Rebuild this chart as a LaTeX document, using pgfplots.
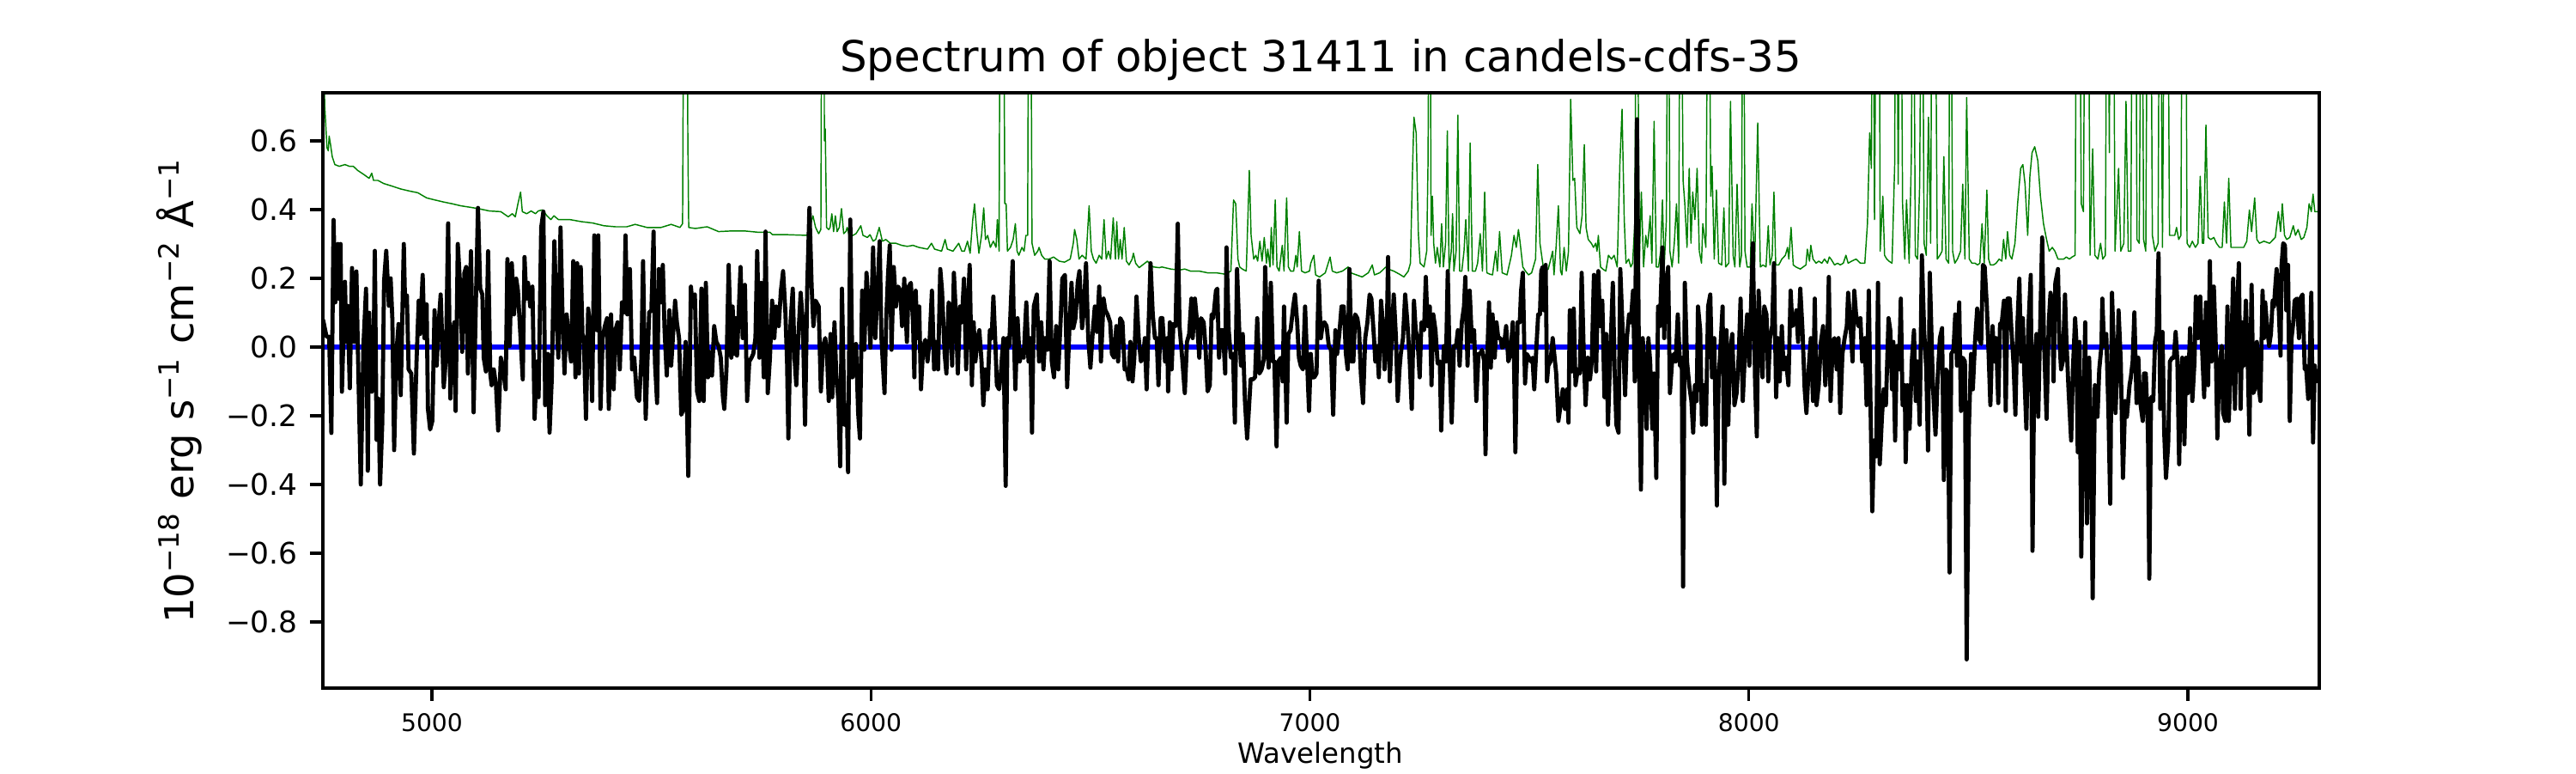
\documentclass[border=0pt]{standalone}
\usepackage{fontspec}
\setmainfont{DejaVu Sans}
\usepackage{pgfplots}
\pgfplotsset{compat=1.18}
\usepackage{pgfplotstable}
\definecolor{mplgreen}{rgb}{0,0.5,0}
\pgfplotstableread{
x y
4752 0.080
4760 0.030
4766 0.030
4771 -0.250
4776 0.370
4780 0.130
4786 0.300
4789 0.140
4792 0.300
4795 -0.130
4802 0.190
4805 0.015
4808 0.120
4813 -0.120
4818 0.230
4823 0.015
4828 0.220
4831 0.015
4838 -0.400
4844 0.003
4850 0.170
4854 -0.360
4857 0.100
4863 -0.130
4867 -0.020
4870 0.280
4874 -0.270
4878 -0.150
4882 -0.400
4887 -0.220
4891 0.190
4896 0.280
4902 0.120
4906 0.200
4910 0.080
4914 -0.300
4919 -0.020
4924 0.067
4929 -0.140
4936 0.300
4939 0.120
4943 0.150
4947 -0.065
4953 -0.077
4959 -0.310
4965 -0.042
4970 0.135
4973 0.038
4979 0.210
4983 0.026
4988 0.124
4991 -0.180
4996 -0.240
5001 -0.215
5006 0.107
5011 -0.054
5015 0.061
5020 0.153
5027 -0.117
5032 -0.031
5037 0.360
5042 -0.150
5046 0.026
5051 0.072
5054 -0.186
5059 0.300
5065 0.164
5069 -0.014
5074 0.216
5078 0.233
5082 -0.077
5089 0.279
5095 -0.190
5100 0.118
5105 0.405
5110 0.170
5115 0.153
5118 -0.031
5123 -0.071
5128 0.279
5133 -0.077
5136 -0.111
5141 -0.065
5146 -0.111
5151 -0.243
5157 -0.031
5162 -0.065
5168 -0.123
5172 0.256
5177 0.003
5182 0.244
5187 0.095
5192 0.199
5196 0.164
5202 0.026
5207 -0.094
5211 0.262
5215 0.141
5219 0.187
5224 0.118
5229 0.176
5234 -0.209
5239 -0.042
5243 -0.146
5249 0.348
5254 0.394
5258 -0.169
5264 -0.020
5268 -0.249
5273 -0.094
5279 0.308
5283 0.118
5288 -0.031
5293 0.348
5297 0.118
5302 -0.077
5307 0.095
5312 0.015
5317 -0.042
5322 0.250
5327 -0.088
5331 0.244
5335 -0.077
5339 0.233
5343 0.038
5346 0.026
5351 -0.209
5356 0.112
5361 0.049
5365 -0.157
5370 0.325
5376 0.049
5379 0.325
5384 -0.180
5389 0.026
5394 0.061
5399 0.084
5403 -0.180
5408 0.095
5414 -0.123
5418 0.049
5423 0.072
5428 -0.065
5433 0.130
5438 0.101
5441 0.325
5445 0.095
5451 0.227
5456 -0.065
5461 -0.031
5467 -0.146
5472 -0.157
5477 -0.042
5481 0.250
5487 -0.209
5491 -0.042
5495 0.101
5500 0.107
5505 0.336
5508 -0.042
5513 -0.163
5517 0.227
5522 0.130
5526 0.239
5530 0.049
5535 -0.083
5541 0.107
5545 -0.054
5550 0.049
5554 0.135
5558 0.072
5563 0.026
5568 -0.197
5573 -0.180
5578 0.015
5584 -0.375
5590 0.176
5594 0.118
5599 0.153
5604 -0.129
5609 -0.157
5614 0.170
5619 -0.157
5624 0.187
5629 -0.088
5633 -0.014
5638 -0.083
5643 0.061
5648 0.015
5653 0.003
5658 -0.031
5663 -0.146
5666 -0.180
5671 -0.065
5676 0.239
5682 -0.031
5685 0.118
5689 -0.020
5692 0.084
5695 -0.025
5698 0.072
5703 0.233
5708 0.026
5713 0.181
5718 -0.157
5723 -0.042
5728 -0.031
5732 -0.020
5737 0.026
5741 0.279
5746 -0.031
5750 0.187
5756 -0.088
5760 0.336
5765 -0.134
5770 -0.031
5775 0.135
5780 0.026
5784 0.118
5790 0.061
5795 0.164
5800 0.221
5805 0.107
5809 -0.042
5812 -0.266
5817 0.072
5822 0.170
5826 -0.031
5830 -0.111
5835 0.038
5840 0.158
5845 0.072
5850 -0.226
5855 0.176
5860 0.405
5865 0.176
5869 0.061
5874 0.135
5881 0.118
5886 -0.129
5891 0.003
5896 0.026
5900 -0.020
5904 -0.157
5908 0.038
5912 -0.146
5917 0.072
5921 -0.077
5926 -0.157
5930 -0.347
5934 0.170
5940 -0.226
5945 -0.169
5948 -0.364
5953 0.371
5958 -0.088
5962 -0.042
5966 0.009
5971 -0.192
5975 -0.266
5980 0.164
5985 -0.008
5990 0.216
5995 0.118
5999 -0.002
6005 0.290
6010 0.026
6014 0.135
6020 0.308
6024 0.026
6031 -0.134
6035 0.084
6039 0.210
6043 0.296
6047 -0.008
6052 0.233
6057 0.118
6062 0.176
6067 0.164
6071 0.061
6076 0.199
6082 0.015
6086 0.176
6091 0.187
6096 0.072
6099 -0.088
6102 0.164
6106 0.026
6110 0.118
6114 -0.123
6119 -0.002
6124 0.021
6129 -0.042
6134 0.026
6139 0.164
6144 -0.065
6148 0.015
6153 -0.065
6158 0.227
6162 0.164
6168 -0.020
6172 -0.077
6177 0.130
6181 0.118
6185 -0.054
6189 0.216
6194 0.084
6198 -0.077
6203 0.118
6207 0.072
6212 0.199
6217 -0.065
6221 0.118
6225 0.239
6230 -0.111
6234 0.072
6238 -0.042
6243 0.026
6247 0.049
6252 -0.042
6256 -0.169
6261 -0.065
6266 -0.123
6271 0.049
6275 0.026
6279 0.147
6283 0.026
6287 -0.111
6292 -0.123
6296 -0.077
6299 -0.020
6302 0.026
6307 -0.404
6311 0.026
6315 0.003
6320 0.164
6323 0.250
6326 0.026
6329 -0.123
6334 0.084
6339 -0.042
6344 -0.008
6348 -0.031
6354 0.130
6359 -0.042
6363 0.026
6367 -0.249
6371 0.118
6378 0.153
6383 -0.042
6388 0.072
6393 -0.065
6397 0.026
6402 -0.008
6407 0.250
6412 -0.042
6417 -0.088
6422 0.061
6427 -0.065
6432 0.072
6436 0.199
6442 0.210
6447 -0.117
6452 0.049
6457 0.187
6461 0.055
6466 0.084
6471 0.187
6475 0.221
6481 0.055
6485 0.107
6490 0.244
6495 0.026
6500 -0.060
6505 0.038
6510 0.118
6515 0.044
6520 0.176
6524 -0.042
6530 0.141
6534 0.107
6539 0.095
6545 0.072
6549 -0.020
6554 -0.031
6559 0.061
6563 -0.042
6568 0.084
6573 0.072
6578 -0.065
6583 -0.065
6587 -0.094
6591 0.015
6596 -0.100
6600 -0.031
6605 0.147
6610 0.026
6615 -0.042
6620 -0.031
6624 0.026
6628 -0.123
6633 0.084
6637 0.244
6642 0.095
6647 0.026
6651 0.026
6655 -0.111
6660 0.084
6664 0.084
6670 -0.042
6675 0.026
6677 -0.129
6681 0.072
6685 -0.065
6689 0.067
6694 0.061
6699 0.359
6703 0.061
6709 -0.031
6715 -0.134
6720 0.015
6725 0.038
6730 0.141
6733 0.026
6738 0.141
6743 0.072
6748 -0.031
6752 0.084
6758 0.072
6762 0.003
6767 -0.129
6772 -0.111
6776 0.095
6780 0.084
6786 0.164
6789 0.170
6793 -0.031
6797 0.049
6802 0.049
6807 -0.077
6810 0.290
6815 0.049
6820 -0.031
6825 -0.020
6829 -0.220
6834 0.227
6839 0.049
6843 -0.054
6847 0.038
6852 -0.157
6857 -0.266
6861 -0.180
6865 -0.094
6870 -0.094
6875 -0.088
6880 0.084
6885 -0.077
6890 -0.065
6895 -0.037
6898 0.233
6902 0.072
6906 -0.060
6911 0.187
6916 -0.042
6919 -0.042
6924 -0.289
6928 -0.042
6934 -0.031
6938 -0.100
6941 0.118
6947 -0.220
6951 0.038
6956 0.049
6962 0.118
6966 0.153
6971 0.072
6975 -0.031
6979 -0.054
6984 -0.065
6989 0.118
6994 -0.054
6998 -0.186
7002 -0.020
7006 -0.088
7010 -0.088
7015 -0.077
7020 0.193
7025 0.026
7029 0.067
7033 0.072
7038 0.061
7043 0.003
7048 -0.008
7053 -0.197
7058 0.049
7062 -0.020
7067 0.038
7072 0.118
7077 0.118
7082 -0.020
7086 -0.065
7090 0.227
7095 -0.042
7099 -0.042
7103 0.095
7108 0.084
7112 0.049
7116 -0.077
7121 -0.163
7126 0.026
7131 0.072
7136 0.153
7140 0.141
7146 0.026
7149 -0.042
7153 0.003
7157 -0.088
7162 0.135
7166 0.072
7170 -0.065
7175 0.026
7178 0.262
7182 -0.100
7187 0.049
7191 0.153
7196 0.026
7200 -0.157
7204 -0.065
7207 -0.020
7212 0.026
7217 0.153
7222 0.072
7227 -0.031
7232 -0.180
7237 0.135
7241 0.049
7245 0.026
7250 -0.088
7254 0.072
7260 0.049
7264 0.204
7268 0.061
7273 0.118
7277 -0.111
7281 0.095
7286 0.049
7291 -0.048
7296 -0.042
7299 -0.243
7305 0.003
7310 -0.042
7314 0.221
7318 -0.031
7323 -0.220
7328 0.003
7333 0.003
7337 0.049
7341 -0.054
7346 0.072
7351 0.118
7354 0.204
7359 -0.054
7364 0.164
7369 0.015
7374 0.049
7379 -0.157
7384 -0.020
7388 -0.020
7392 -0.008
7397 -0.042
7400 -0.312
7403 -0.065
7408 0.130
7412 -0.060
7416 0.095
7421 -0.031
7425 0.072
7429 0.026
7434 0.026
7438 -0.002
7442 0.003
7447 0.061
7452 -0.042
7457 -0.020
7462 0.072
7465 -0.042
7468 -0.306
7473 0.072
7478 0.072
7481 0.164
7485 0.216
7490 -0.106
7494 -0.020
7499 -0.031
7503 -0.042
7507 -0.031
7511 -0.123
7516 0.003
7520 0.095
7524 0.095
7527 0.221
7530 0.233
7533 0.107
7537 0.239
7540 -0.100
7543 -0.054
7548 -0.042
7553 0.026
7561 -0.077
7566 -0.215
7571 -0.169
7576 -0.123
7581 -0.180
7586 -0.123
7589 -0.220
7592 0.107
7597 -0.071
7601 0.112
7605 -0.111
7610 -0.065
7615 -0.077
7619 0.216
7624 -0.031
7628 -0.169
7633 -0.031
7638 -0.094
7642 -0.042
7647 0.210
7652 -0.071
7657 0.221
7661 0.061
7666 0.135
7671 -0.146
7675 0.038
7679 -0.226
7683 -0.065
7690 0.187
7694 -0.065
7698 -0.226
7703 -0.249
7707 0.227
7713 0.026
7718 -0.140
7722 0.026
7727 0.095
7731 0.072
7736 0.164
7740 -0.100
7745 0.663
7749 0.026
7754 -0.415
7758 0.026
7762 -0.042
7767 -0.238
7771 0.026
7775 -0.042
7780 -0.238
7784 -0.077
7789 -0.381
7793 0.118
7797 0.061
7803 0.290
7807 0.026
7810 0.164
7816 0.233
7820 -0.134
7825 -0.042
7829 -0.020
7833 -0.042
7838 0.095
7843 -0.054
7847 -0.031
7850 -0.697
7854 0.187
7859 -0.042
7864 -0.111
7869 -0.157
7873 -0.249
7877 -0.111
7881 -0.157
7884 0.118
7889 0.049
7893 -0.226
7897 -0.111
7902 -0.226
7907 0.118
7912 0.153
7916 -0.088
7921 0.026
7927 -0.461
7931 -0.088
7934 -0.031
7940 0.118
7944 -0.398
7949 0.049
7953 -0.226
7957 -0.020
7962 0.038
7967 -0.169
7972 -0.134
7977 -0.020
7981 0.141
7986 -0.157
7992 0.015
7996 0.095
8001 -0.054
8005 0.130
8009 0.302
8014 -0.100
8018 -0.260
8022 0.164
8027 0.026
8031 -0.088
8035 0.118
8040 0.095
8044 -0.100
8048 0.026
8053 0.061
8057 0.244
8062 -0.146
8066 0.026
8070 -0.100
8075 0.061
8079 -0.065
8084 -0.031
8090 -0.111
8095 0.164
8099 0.061
8104 0.072
8108 0.107
8112 0.015
8117 0.170
8122 0.049
8127 -0.123
8131 -0.192
8136 -0.065
8141 0.026
8146 -0.157
8150 0.141
8154 -0.169
8159 -0.111
8164 0.015
8169 0.061
8174 -0.111
8178 -0.031
8182 0.204
8186 -0.157
8191 0.015
8195 0.026
8200 -0.065
8204 0.026
8208 -0.192
8213 -0.020
8218 0.026
8223 0.061
8226 0.158
8231 0.072
8236 -0.042
8240 0.164
8244 0.095
8249 0.061
8254 0.084
8258 -0.042
8264 0.026
8268 -0.169
8273 0.164
8277 -0.169
8281 -0.478
8285 -0.272
8290 -0.318
8294 0.187
8298 -0.341
8303 -0.203
8307 -0.123
8312 -0.169
8318 0.084
8322 0.049
8326 -0.123
8329 0.015
8333 -0.272
8337 0.003
8342 -0.065
8346 0.141
8350 -0.169
8355 -0.111
8357 -0.335
8361 -0.111
8366 -0.238
8371 -0.042
8376 0.049
8380 -0.157
8384 -0.042
8389 -0.226
8394 0.267
8399 0.049
8404 -0.065
8408 -0.301
8412 0.216
8419 -0.110
8425 -0.255
8430 -0.088
8435 0.026
8440 0.055
8444 -0.387
8449 -0.065
8453 -0.077
8457 -0.656
8461 -0.020
8466 -0.008
8470 0.095
8474 -0.054
8479 0.130
8483 -0.186
8487 -0.031
8492 -0.042
8496 -0.909
8501 -0.238
8506 -0.020
8510 -0.123
8515 0.015
8520 0.112
8524 0.026
8529 0.009
8533 0.239
8537 0.233
8542 0.118
8546 -0.020
8550 -0.169
8555 0.061
8559 -0.042
8563 0.026
8568 -0.163
8572 0.067
8576 0.072
8581 0.135
8585 -0.186
8589 0.141
8594 0.141
8598 0.049
8603 -0.054
8607 -0.197
8611 0.049
8616 0.199
8620 -0.042
8624 0.084
8627 -0.065
8632 -0.238
8636 0.044
8642 0.210
8646 -0.593
8650 -0.042
8655 0.038
8659 -0.203
8663 0.038
8668 0.319
8672 0.026
8678 -0.209
8683 0.072
8687 0.158
8691 0.130
8694 -0.100
8698 0.187
8704 0.227
8707 0.026
8711 -0.065
8715 -0.042
8720 0.153
8723 0.026
8728 -0.123
8734 -0.272
8738 -0.065
8743 0.084
8746 0.015
8749 -0.306
8753 0.015
8757 -0.610
8761 -0.272
8766 0.072
8770 -0.513
8775 -0.031
8779 -0.249
8783 -0.731
8788 -0.111
8794 -0.203
8798 -0.065
8803 0.003
8805 0.141
8809 0.003
8814 0.038
8819 -0.192
8823 -0.456
8827 0.158
8831 0.003
8835 -0.192
8839 -0.065
8842 0.107
8847 -0.042
8852 -0.381
8857 -0.157
8861 -0.203
8867 -0.111
8870 -0.088
8874 -0.042
8878 0.101
8883 -0.163
8887 -0.031
8891 -0.157
8897 -0.215
8900 -0.077
8904 -0.077
8909 -0.249
8912 -0.674
8916 -0.146
8921 -0.157
8925 0.015
8929 0.044
8933 0.273
8937 -0.180
8942 0.044
8946 -0.249
8950 -0.381
8955 -0.283
8959 -0.042
8964 -0.031
8968 -0.031
8972 0.044
8976 -0.042
8980 -0.341
8984 -0.088
8987 -0.031
8992 -0.283
8996 -0.031
9000 -0.134
9005 0.055
9010 -0.157
9015 -0.042
9018 0.147
9023 0.026
9028 0.147
9032 0.003
9037 -0.146
9041 0.130
9046 -0.111
9050 0.250
9054 -0.042
9059 0.176
9063 0.026
9067 -0.266
9071 -0.065
9077 0.003
9080 -0.192
9085 -0.215
9090 0.118
9093 -0.215
9098 -0.042
9103 0.199
9107 -0.180
9111 0.072
9116 0.244
9120 -0.180
9124 0.072
9127 -0.054
9132 0.135
9136 -0.031
9140 -0.255
9145 0.181
9149 -0.134
9152 -0.123
9157 0.015
9161 -0.111
9165 -0.157
9170 0.164
9173 0.026
9176 0.130
9181 0.049
9185 0.003
9189 0.038
9193 0.135
9196 0.118
9199 0.176
9202 0.227
9207 0.107
9211 -0.025
9213 0.233
9217 0.302
9221 0.296
9224 0.107
9228 0.239
9232 -0.215
9236 0.026
9240 0.072
9243 0.135
9248 0.141
9253 0.026
9256 0.141
9261 0.153
9266 -0.065
9269 -0.054
9274 -0.151
9277 -0.054
9281 0.158
9285 -0.278
9289 -0.054
9292 -0.100
9296 -0.065
}\specdata
\pgfplotstableread{
x y
4752 0.900
4756 0.700
4761 0.580
4764 0.571
4766 0.614
4769 0.590
4773 0.554
4779 0.531
4789 0.526
4802 0.531
4812 0.526
4821 0.526
4831 0.514
4844 0.503
4857 0.491
4863 0.506
4867 0.485
4877 0.485
4890 0.476
4910 0.468
4929 0.460
4949 0.454
4968 0.449
4988 0.434
5007 0.428
5027 0.422
5046 0.417
5066 0.411
5086 0.407
5105 0.403
5131 0.396
5157 0.394
5174 0.379
5183 0.388
5190 0.379
5196 0.417
5202 0.451
5206 0.394
5216 0.388
5226 0.396
5236 0.388
5242 0.396
5252 0.399
5262 0.382
5271 0.371
5278 0.382
5288 0.371
5314 0.371
5340 0.365
5366 0.361
5392 0.353
5418 0.350
5444 0.350
5463 0.357
5490 0.348
5522 0.348
5545 0.357
5565 0.348
5571 0.359
5575 1.500
5580 1.500
5583 0.600
5585 0.348
5600 0.345
5627 0.350
5653 0.336
5685 0.338
5711 0.338
5744 0.334
5770 0.334
5776 0.327
5809 0.327
5855 0.325
5868 0.382
5874 0.348
5881 0.330
5886 0.342
5889 1.500
5893 1.500
5894 0.600
5896 0.635
5899 0.348
5904 0.342
5907 0.348
5911 0.388
5915 0.336
5919 0.382
5923 0.336
5928 0.348
5933 0.403
5938 0.330
5943 0.336
5946 0.348
5951 0.322
5959 0.325
5966 0.330
5972 0.342
5977 0.353
5982 0.325
5992 0.319
5998 0.327
6005 0.308
6011 0.313
6019 0.348
6026 0.308
6034 0.313
6044 0.302
6057 0.302
6070 0.296
6083 0.293
6096 0.296
6109 0.290
6129 0.285
6138 0.302
6145 0.285
6161 0.279
6169 0.313
6174 0.285
6187 0.279
6200 0.302
6207 0.279
6213 0.279
6220 0.308
6226 0.273
6232 0.371
6236 0.417
6241 0.336
6246 0.273
6252 0.325
6257 0.405
6261 0.313
6266 0.325
6272 0.290
6279 0.308
6285 0.290
6288 0.371
6292 0.279
6295 1.500
6301 1.500
6305 0.417
6308 0.417
6311 0.279
6318 0.290
6324 0.313
6329 0.359
6333 0.279
6337 0.267
6344 0.290
6349 0.279
6353 0.325
6357 0.325
6360 1.500
6363 1.500
6367 0.302
6373 0.267
6380 0.279
6383 0.290
6389 0.267
6396 0.256
6406 0.256
6416 0.262
6429 0.250
6441 0.247
6454 0.256
6461 0.302
6464 0.342
6469 0.313
6474 0.256
6481 0.267
6490 0.256
6497 0.411
6502 0.279
6507 0.256
6513 0.244
6520 0.267
6526 0.256
6531 0.371
6536 0.256
6541 0.279
6546 0.256
6552 0.376
6557 0.256
6560 0.365
6564 0.256
6568 0.313
6572 0.256
6577 0.348
6582 0.250
6588 0.239
6595 0.256
6598 0.273
6603 0.244
6611 0.231
6630 0.250
6637 0.239
6644 0.233
6657 0.231
6663 0.233
6683 0.227
6702 0.224
6715 0.227
6728 0.221
6748 0.221
6767 0.216
6787 0.216
6807 0.212
6820 0.221
6826 0.428
6831 0.417
6836 0.256
6840 0.233
6846 0.227
6855 0.221
6862 0.514
6866 0.325
6872 0.256
6877 0.267
6881 0.250
6886 0.308
6891 0.250
6896 0.319
6901 0.244
6904 0.285
6909 0.233
6912 0.348
6916 0.239
6921 0.428
6925 0.233
6930 0.221
6937 0.296
6941 0.221
6947 0.434
6951 0.233
6956 0.221
6963 0.221
6968 0.267
6971 0.233
6976 0.336
6981 0.221
6989 0.216
6999 0.221
7002 0.244
7009 0.267
7013 0.210
7022 0.204
7035 0.216
7046 0.262
7051 0.221
7061 0.216
7074 0.221
7087 0.233
7093 0.216
7106 0.210
7119 0.204
7133 0.216
7142 0.239
7147 0.210
7159 0.216
7173 0.233
7178 0.227
7191 0.221
7204 0.212
7214 0.204
7224 0.221
7229 0.244
7234 0.531
7237 0.669
7242 0.623
7247 0.330
7251 0.244
7260 0.233
7266 0.279
7269 0.531
7273 1.500
7276 0.325
7279 0.439
7282 0.302
7286 0.244
7290 0.290
7296 0.233
7300 0.359
7304 0.233
7309 0.302
7313 0.629
7317 0.221
7322 0.279
7325 0.388
7328 0.221
7333 0.279
7337 0.675
7341 0.221
7346 0.221
7351 0.279
7355 0.371
7361 0.221
7365 0.594
7370 0.221
7377 0.221
7382 0.244
7388 0.330
7393 0.221
7398 0.451
7403 0.216
7410 0.212
7416 0.210
7423 0.279
7427 0.221
7432 0.336
7438 0.216
7449 0.210
7459 0.267
7465 0.325
7470 0.290
7475 0.342
7479 0.302
7485 0.233
7491 0.221
7498 0.210
7505 0.216
7514 0.256
7519 0.531
7524 0.302
7529 0.256
7533 0.221
7543 0.227
7553 0.279
7556 0.210
7561 0.296
7566 0.411
7571 0.221
7574 0.210
7579 0.290
7584 0.221
7589 0.279
7594 0.721
7599 0.485
7603 0.491
7608 0.348
7615 0.330
7620 0.382
7625 0.589
7629 0.348
7634 0.313
7641 0.302
7646 0.290
7651 0.302
7654 0.279
7657 0.325
7662 0.233
7667 0.227
7674 0.221
7680 0.267
7687 0.256
7693 0.267
7700 0.233
7706 0.531
7711 0.692
7716 0.371
7720 0.244
7726 0.256
7731 0.233
7735 0.244
7740 0.359
7745 1.500
7750 0.233
7755 0.451
7760 0.233
7765 0.325
7769 0.290
7775 0.382
7779 0.244
7784 0.657
7789 0.233
7794 0.233
7799 0.279
7803 0.428
7807 0.233
7812 0.371
7816 1.500
7820 0.279
7825 0.233
7830 0.302
7835 0.417
7840 0.244
7844 1.500
7850 0.485
7854 0.417
7859 0.290
7864 0.520
7868 0.302
7872 0.451
7877 0.371
7882 0.520
7887 0.279
7892 0.244
7895 0.359
7902 0.290
7908 1.500
7913 0.439
7916 0.526
7921 0.256
7926 0.457
7931 0.244
7938 0.239
7943 0.405
7947 0.233
7954 0.244
7958 0.715
7964 0.267
7968 0.233
7973 0.474
7979 0.233
7983 0.267
7987 1.500
7991 0.279
7996 0.233
8003 0.233
8007 0.417
8013 0.239
8020 0.652
8026 0.233
8032 0.239
8039 0.233
8044 0.353
8048 0.239
8053 0.267
8057 0.451
8061 0.239
8068 0.239
8075 0.256
8083 0.267
8088 0.290
8091 0.256
8096 0.348
8101 0.239
8107 0.233
8117 0.227
8130 0.239
8133 0.285
8138 0.250
8141 0.296
8146 0.256
8153 0.244
8159 0.250
8166 0.244
8172 0.256
8179 0.244
8183 0.262
8187 0.256
8195 0.239
8202 0.244
8208 0.239
8215 0.244
8221 0.267
8226 0.244
8234 0.250
8244 0.256
8254 0.244
8264 0.244
8270 0.359
8275 0.623
8279 0.520
8282 1.500
8286 0.371
8292 1.500
8296 1.500
8299 0.279
8305 0.439
8309 0.267
8314 0.256
8319 0.250
8326 0.244
8332 0.531
8335 1.500
8340 0.474
8345 1.500
8350 0.417
8355 0.256
8359 0.428
8365 0.244
8370 0.554
8374 1.500
8379 0.267
8384 0.256
8389 0.474
8394 1.500
8399 0.302
8404 0.267
8409 0.669
8414 0.302
8418 1.500
8423 1.500
8429 0.256
8435 0.267
8440 0.279
8444 0.554
8449 0.256
8455 0.244
8459 1.500
8464 0.279
8469 0.244
8475 0.256
8482 0.279
8487 0.474
8492 0.256
8496 0.726
8502 0.256
8508 0.244
8515 0.244
8521 0.239
8526 0.244
8531 0.359
8536 0.244
8542 0.457
8546 0.256
8550 0.239
8557 0.239
8563 0.244
8570 0.256
8576 0.250
8580 0.313
8585 0.256
8589 0.336
8594 0.267
8599 0.256
8606 0.302
8612 0.417
8619 0.520
8624 0.531
8629 0.474
8635 0.325
8640 0.497
8645 0.566
8651 0.583
8658 0.543
8664 0.439
8671 0.359
8678 0.313
8684 0.279
8691 0.290
8697 0.279
8704 0.256
8717 0.256
8723 0.262
8730 0.256
8736 0.262
8743 0.267
8747 1.500
8752 1.500
8757 0.417
8762 0.394
8767 1.500
8772 1.500
8777 0.267
8783 0.577
8788 0.267
8795 0.256
8801 0.302
8806 0.256
8812 0.267
8816 1.500
8821 0.566
8824 1.500
8829 1.500
8834 0.279
8842 0.520
8847 0.279
8854 0.302
8859 0.715
8864 0.279
8870 0.279
8874 1.500
8880 1.500
8884 0.313
8889 0.302
8895 1.500
8899 0.313
8904 0.279
8909 1.500
8914 1.500
8919 0.325
8925 0.279
8932 0.302
8936 1.500
8942 0.290
8948 1.500
8953 1.500
8958 0.325
8964 0.325
8970 0.325
8974 0.348
8979 0.313
8984 0.325
8988 1.500
8994 1.500
8998 0.302
9004 0.290
9010 0.308
9017 0.290
9023 0.302
9028 0.497
9033 0.302
9036 0.302
9041 0.646
9046 0.319
9052 0.313
9059 0.319
9065 0.302
9072 0.290
9078 0.290
9083 0.422
9088 0.302
9093 0.491
9098 0.290
9108 0.290
9118 0.290
9127 0.290
9134 0.308
9140 0.399
9145 0.336
9152 0.434
9157 0.313
9163 0.302
9173 0.308
9186 0.302
9199 0.319
9206 0.394
9211 0.336
9215 0.417
9220 0.325
9225 0.313
9232 0.319
9240 0.353
9245 0.325
9251 0.342
9258 0.313
9264 0.319
9271 0.348
9276 0.417
9281 0.394
9285 0.445
9289 0.394
9296 0.394
}\errdata
\begin{document}
\begin{tikzpicture}
\useasboundingbox (0,0) rectangle (10in,3in);
\begin{axis}[
  at={(1.2533in,0.33in)}, anchor=south west,
  scale only axis, width=7.75in, height=2.31in,
  xmin=4751.6, xmax=9299.2, ymin=-0.9925, ymax=0.74,
  axis line style={line width=0.8bp},
  axis on top,
  tick pos=left, tick align=outside,
  major tick length=3.5bp,
  every tick/.style={black, line width=0.8bp},
  xtick={5000,6000,7000,8000,9000},
  xticklabels={5000,6000,7000,8000,9000},
  ytick={-0.8,-0.6,-0.4,-0.2,0,0.2,0.4,0.6},
  yticklabels={−0.8,−0.6,−0.4,−0.2,0.0,0.2,0.4,0.6},
  xticklabel style={font=\fontsize{6.8}{8}\selectfont},
  yticklabel style={font=\fontsize{8.3}{10}\selectfont},
]
\addplot[mplgreen, line width=0.35bp, line join=round] table {\errdata};
\addplot[blue, line width=1.45bp] coordinates {(4751.6,0) (9299.2,0)};
\addplot[black, line width=1.15bp, line join=round] table {\specdata};
\end{axis}
\node[anchor=base, font=\fontsize{12}{14}\selectfont] at (5.1267in,2.7233in) {Spectrum of object 31411 in candels-cdfs-35};
\node[anchor=base, font=\fontsize{7.8}{9}\selectfont] at (5.1267in,0.04in) {Wavelength};
\node[rotate=90, anchor=base, font=\fontsize{11.2}{13}\selectfont] at (0.75in,1.485in) {10\textsuperscript{−18} erg s\textsuperscript{−1} cm\textsuperscript{−2} Å\textsuperscript{−1}};
\end{tikzpicture}
\end{document}
